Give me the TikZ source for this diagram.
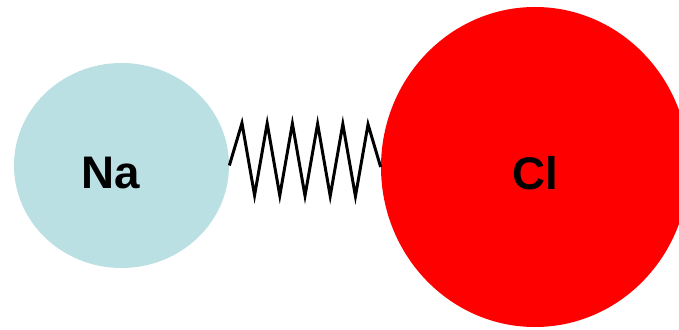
\documentclass[tikz,border=0pt]{standalone}
\usepackage{fontspec}
\setsansfont{Liberation Sans}
\usepackage{tikz}
\usetikzlibrary{shapes.geometric,calc}

\definecolor{nablue}{RGB}{186,224,227}
\definecolor{clred}{RGB}{255,0,0}

\begin{document}
\begin{tikzpicture}[
    font=\sffamily\bfseries\fontsize{26}{30}\selectfont,
    atom/.style={ellipse, inner sep=0pt, draw=none},
    naatom/.style={atom, fill=nablue, minimum width=4.30cm, minimum height=4.10cm},
    clatom/.style={atom, fill=clred, minimum width=6.16cm, minimum height=6.40cm},
    atomlabel/.style={inner sep=0pt},
    spring/.style={draw=black, line width=1.7pt, line join=miter}
]
\useasboundingbox (0,0) rectangle (13.58,6.58);

% Atoms
\node[naatom] (na) at (2.43, 3.27) {};
\node[clatom] (cl) at (10.70, 3.24) {};
\node[atomlabel] (natext) at ($(na.center)+(-0.22,-0.16)$) {Na};
\node[atomlabel] (cltext) at ($(cl.center)+(0.01,-0.13)$) {Cl};

% Spring
\draw[spring] (na.east)
    \foreach \i in {1,...,11} {
        -- ($(na.east)!\i/12!(cl.west) + (0,{0.85*mod(\i,2) - 0.59*(1-mod(\i,2))})$)
    } -- (cl.west);

\end{tikzpicture}
\end{document}
